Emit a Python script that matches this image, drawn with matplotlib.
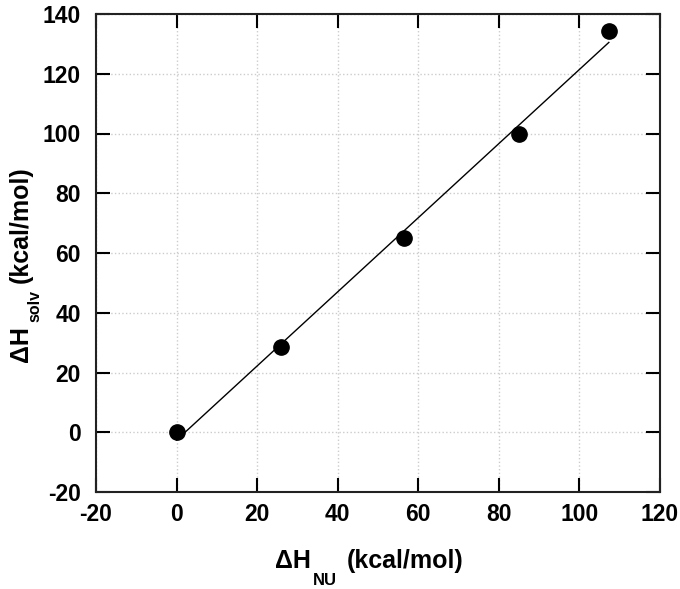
import numpy as np
import matplotlib
matplotlib.use('Agg')
import matplotlib.pyplot as plt
from matplotlib.transforms import IdentityTransform

# data
dh_nu = [0, 26, 56.5, 85, 107.3]
dh_solv = [0, 28.5, 65, 100, 134.3]
x_ticks = [-20, 0, 20, 40, 60, 80, 100, 120]
y_ticks = [-20, 0, 20, 40, 60, 80, 100, 120, 140]

plt.rcParams['font.family'] = ['Liberation Sans', 'DejaVu Sans']
plt.rcParams['font.weight'] = 'bold'
plt.rcParams['axes.unicode_minus'] = False

W, H = 680, 589
fig = plt.figure(figsize=(W / 100, H / 100), dpi=100)
ax = fig.add_axes([96 / W, 1 - 492 / H, 564 / W, 478 / H])

# linear fit through the points
slope, icpt = np.polyfit(dh_nu, dh_solv, 1)
xf = np.array([dh_nu[0], dh_nu[-1]])
ax.plot(xf, slope * xf + icpt, color='black', lw=1.0, zorder=2)
ax.plot(dh_nu, dh_solv, 'o', color='black', markersize=11, zorder=3)

ax.set_xlim(-20, 120)
ax.set_ylim(-20, 140)
ax.set_xticks(x_ticks)
ax.set_yticks(y_ticks)
ax.grid(True, linestyle=':', color='#cccccc', lw=1.0)
ax.set_axisbelow(True)
ax.tick_params(direction='in', length=10, width=1.5, top=True, right=True,
               labelsize=16.5, colors='black')
ax.tick_params(axis='x', pad=8)
ax.tick_params(axis='y', pad=11)
for lab in ax.get_xticklabels() + ax.get_yticklabels():
    lab.set_fontweight('bold')
for sp in ax.spines.values():
    sp.set_linewidth(1.5)
    sp.set_color('#222222')


def label_parts(x, y, parts, rotation=0):
    # parts: (text, size, offset perpendicular to baseline in px, gap before in px)
    renderer = fig.canvas.get_renderer()
    pos = 0.0
    for text, size, off, gap in parts:
        pos += gap
        if rotation == 0:
            px, py = x + pos, y - off
        else:
            px, py = x + off, y + pos
        t = fig.text(px, py, text, fontsize=size, fontweight='bold',
                     rotation=rotation, rotation_mode='anchor',
                     ha='left', va='baseline', transform=IdentityTransform())
        bb = t.get_window_extent(renderer)
        pos += bb.width if rotation == 0 else bb.height


label_parts(275, H - 568, [('ΔH', 18, 0, 0), ('NU', 12, 17, 2), ('(kcal/mol)', 18, 0, 10)])
label_parts(28, H - 362, [('ΔH', 18, 0, 0), ('solv', 11.5, 11, 4), ('(kcal/mol)', 18, 0, 7)],
            rotation=90)

fig.savefig('out.png', dpi=100)
